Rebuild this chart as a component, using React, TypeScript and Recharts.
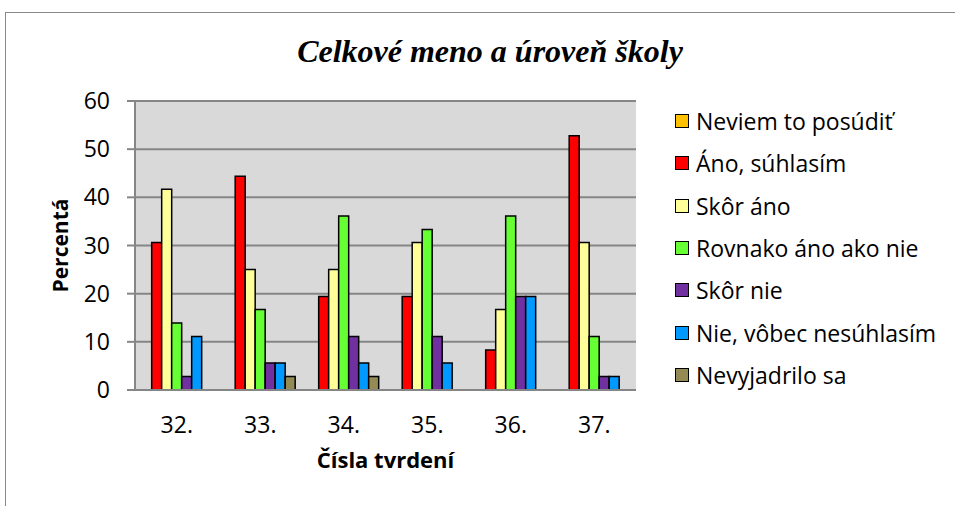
import { BarChart, Bar, XAxis, YAxis, CartesianGrid } from 'recharts'

const categories = ['32.', '33.', '34.', '35.', '36.', '37.']
const neviem = [0, 0, 0, 0, 0, 0]
const ano = [30.6, 44.4, 19.4, 19.4, 8.3, 52.8]
const skorAno = [41.7, 25, 25, 30.6, 16.7, 30.6]
const rovnako = [13.9, 16.7, 36.1, 33.3, 36.1, 11.1]
const skorNie = [2.8, 5.6, 11.1, 11.1, 19.4, 2.8]
const nieVobec = [11.1, 5.6, 5.6, 5.6, 19.4, 2.8]
const nevyjadrilo = [0, 2.8, 2.8, 0, 0, 0]
const yTicks = [0, 10, 20, 30, 40, 50, 60]

const series = [
  { key: 'neviem', name: 'Neviem to posúdiť', color: '#FFC000', values: neviem },
  { key: 'ano', name: 'Áno, súhlasím', color: '#FF0000', values: ano },
  { key: 'skorAno', name: 'Skôr áno', color: '#FFFF99', values: skorAno },
  { key: 'rovnako', name: 'Rovnako áno ako nie', color: '#66FF33', values: rovnako },
  { key: 'skorNie', name: 'Skôr nie', color: '#7030A0', values: skorNie },
  { key: 'nieVobec', name: 'Nie, vôbec nesúhlasím', color: '#0099FF', values: nieVobec },
  { key: 'nevyjadrilo', name: 'Nevyjadrilo sa', color: '#948A54', values: nevyjadrilo }
]

const data = categories.map((c, i) => {
  const row: Record<string, string | number> = { cat: c }
  series.forEach(s => { row[s.key] = s.values[i] })
  return row
})

const font = '"Open Sans", sans-serif'

function LegendBox() {
  return (
    <div style={{ position: 'absolute', left: 675, top: 100, fontFamily: font, fontSize: 23, color: '#000' }}>
      {series.map(s => (
        <div key={s.key} style={{ display: 'flex', alignItems: 'center', height: 42.3 }}>
          <span style={{ width: 12, height: 12, background: s.color, border: '1.5px solid #000', marginRight: 7 }} />
          <span>{s.name}</span>
        </div>
      ))}
    </div>
  )
}

export default function App() {
  return (
    <div style={{ position: 'absolute', top: 0, left: 0, width: 955, height: 506, background: '#fff' }}>
      <div style={{ position: 'absolute', left: 5, top: 12, right: 0, bottom: 0, borderTop: '1.5px solid #888', borderLeft: '1.5px solid #888' }} />
      <div style={{ position: 'absolute', top: 33, left: 0, width: 980, textAlign: 'center', fontFamily: '"Liberation Serif", serif', fontStyle: 'italic', fontWeight: 'bold', fontSize: 32 }}>
        Celkové meno a úroveň školy
      </div>
      <BarChart
        width={955}
        height={506}
        data={data}
        margin={{ top: 101, right: 319, bottom: 56, left: 50 }}
        barCategoryGap="8%"
        barGap={0}
        style={{ position: 'absolute', top: 0, left: 0 }}
      >
        <CartesianGrid vertical={false} stroke="#868686" strokeWidth={2} fill="#D9D9D9" />
        <XAxis
          dataKey="cat"
          height={60}
          tickLine={false}
          axisLine={{ stroke: '#868686', strokeWidth: 2 }}
          tickMargin={21}
          tick={{ fill: '#000', fontFamily: font, fontSize: 23 }}
          label={{ value: 'Čísla tvrdení', position: 'bottom', offset: 2, style: { fontFamily: font, fontSize: 22, fontWeight: 'bold', fill: '#000' } }}
        />
        <YAxis
          width={85}
          domain={[0, 60]}
          ticks={yTicks}
          interval={0}
          tickSize={8}
          tickMargin={17}
          tickLine={{ stroke: '#868686', strokeWidth: 2 }}
          axisLine={{ stroke: '#868686', strokeWidth: 2 }}
          tick={{ fill: '#000', fontFamily: font, fontSize: 23 }}
          label={{ value: 'Percentá', angle: -90, position: 'insideLeft', offset: 11, style: { textAnchor: 'middle', fontFamily: font, fontSize: 21, fontWeight: 'bold', fill: '#000' } }}
        />
        {series.map(s => (
          <Bar key={s.key} dataKey={s.key} name={s.name} fill={s.color} stroke="#000" strokeWidth={1.5} isAnimationActive={false} />
        ))}
      </BarChart>
      <LegendBox />
    </div>
  )
}
